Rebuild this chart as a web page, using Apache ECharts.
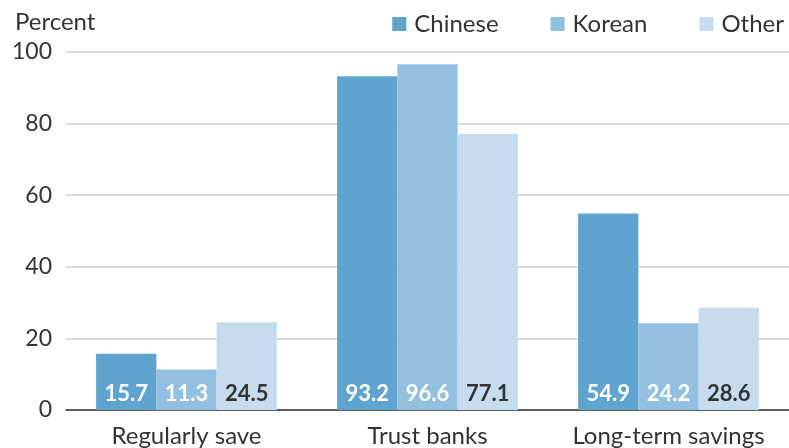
<!DOCTYPE html>
<html><head><meta charset="utf-8">
<script src="https://cdn.jsdelivr.net/npm/echarts@6/dist/echarts.min.js"></script>
<style>html,body{margin:0;padding:0;background:#fff}#c{width:789px;height:448px}</style>
</head><body><div id="c"></div>
<script>
const categories = ['Regularly save', 'Trust banks', 'Long-term savings'];
const chinese = [15.7, 93.2, 54.9];
const korean = [11.3, 96.6, 24.2];
const other = [24.5, 77.1, 28.6];
const yTicks = [0, 20, 40, 60, 80, 100];

const FONT = 'Lato';
function lbl(color) {
  return { show: true, position: 'insideBottom', distance: 5, color: color, fontFamily: FONT, fontWeight: 'bold', fontSize: 22, formatter: p => p.value.toFixed(1) };
}
const chart = echarts.init(document.getElementById('c'), null, { renderer: 'canvas' });
chart.setOption({
  animation: false,
  textStyle: { fontFamily: FONT },
  title: { text: 'Percent', left: 10, top: 5, textStyle: { fontFamily: FONT, fontSize: 24, fontWeight: 'normal', color: '#333' } },
  legend: {
    right: 0, top: 7, itemWidth: 14, itemHeight: 14, itemGap: 52, icon: 'rect',
    textStyle: { fontFamily: FONT, fontSize: 24, color: '#333', padding: [0, 0, 0, 3] },
    data: ['Chinese', 'Korean', 'Other']
  },
  grid: { left: 66, right: 0, top: 52, bottom: 38, containLabel: false },
  xAxis: {
    type: 'category', data: categories,
    axisLine: { lineStyle: { color: '#333', width: 1.5 } },
    axisTick: { show: false },
    axisLabel: { interval: 0, hideOverlap: false, fontFamily: FONT, fontSize: 24, color: '#333', margin: 14 }
  },
  yAxis: {
    type: 'value', min: 0, max: 100, interval: 20,
    axisLabel: { fontFamily: FONT, fontSize: 23, color: '#333', margin: 14, formatter: v => yTicks.includes(v) ? String(v) : '' },
    splitLine: { lineStyle: { color: '#dcdcdc', width: 2 } },
    axisLine: { show: false }, axisTick: { show: false }
  },
  series: [
    { name: 'Chinese', type: 'bar', data: chinese, barGap: '0%', barCategoryGap: '25%', itemStyle: { color: '#5fa3cf' }, label: lbl('#fff') },
    { name: 'Korean', type: 'bar', data: korean, itemStyle: { color: '#93bfe0' }, label: lbl('#fff') },
    { name: 'Other', type: 'bar', data: other, itemStyle: { color: '#c6dcee' }, label: lbl('#333') }
  ]
});
</script></body></html>
